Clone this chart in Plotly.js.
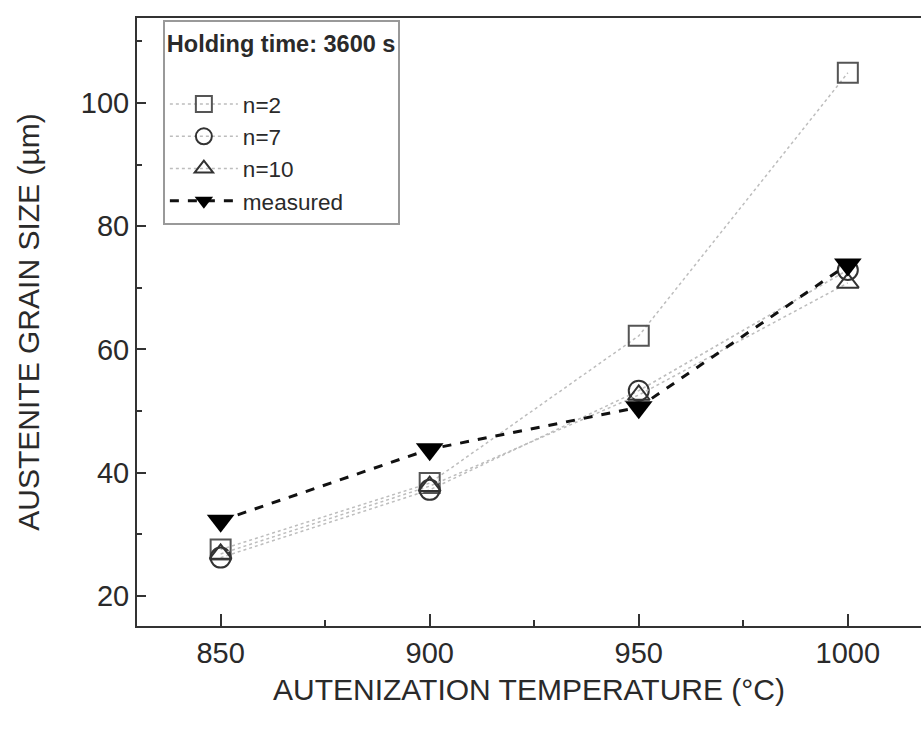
<!DOCTYPE html>
<html>
<head>
<meta charset="utf-8">
<script src="https://cdn.plot.ly/plotly-3.0.1.min.js"></script>
<style>html,body{margin:0;padding:0;background:#fff;}</style>
</head>
<body>
<div id="chart" style="width:921px;height:733px;"></div>
<script>
const temperatures = [850, 900, 950, 1000];
const n2 = [27.5, 38.3, 62.2, 104.9];
const n7 = [26.2, 37.2, 53.3, 72.9];
const n10 = [26.8, 37.8, 52.6, 70.8];
const measured = [32.2, 43.8, 50.6, 73.8];
const seriesNames = ["n=2", "n=7", "n=10", "measured"];

const font = "Liberation Sans, Arial, sans-serif";
const traces = [
  {x: temperatures, y: n2, name: seriesNames[0], mode: "lines+markers",
   line: {color: "#bdbdbd", width: 1.5, dash: "dot"},
   marker: {symbol: "square-open", size: 20, color: "#555", line: {width: 2}}},
  {x: temperatures, y: n7, name: seriesNames[1], mode: "lines+markers",
   line: {color: "#bdbdbd", width: 1.5, dash: "dot"},
   marker: {symbol: "circle-open", size: 20, color: "#333", line: {width: 2}}},
  {x: temperatures, y: n10, name: seriesNames[2], mode: "lines+markers",
   line: {color: "#bdbdbd", width: 1.5, dash: "dot"},
   marker: {symbol: "triangle-up-open", size: 19, color: "#333", line: {width: 2}}},
  {x: temperatures, y: measured, name: seriesNames[3], mode: "lines+markers",
   line: {color: "#111", width: 3, dash: "dash"},
   marker: {symbol: "triangle-down", size: 24, color: "#000"}}
];

const layout = {
  width: 921, height: 733,
  margin: {l: 137, r: 0, t: 18, b: 107},
  paper_bgcolor: "#fff", plot_bgcolor: "#fff",
  font: {family: font, color: "#2a2a2a"},
  showlegend: true,
  legend: {
    x: 0.033, y: 0.997, xanchor: "left", yanchor: "top",
    bordercolor: "#999", borderwidth: 2, bgcolor: "#fff",
    font: {size: 22.5, family: font, color: "#2a2a2a"},
    title: {text: "<b>Holding time: 3600 s</b><br> ", font: {size: 23.5, family: font, color: "#2a2a2a"}},
    itemwidth: 68, tracegroupgap: 0
  },
  xaxis: {
    range: [830, 1017.5], tickvals: temperatures, ticktext: temperatures.map(String),
    ticks: "inside", ticklen: 12, tickwidth: 2, tickcolor: "#333",
    minor: {tickvals: [875, 925, 975], ticks: "inside", ticklen: 6, tickwidth: 2, tickcolor: "#333"},
    showline: true, linecolor: "#333", linewidth: 2, mirror: true,
    showgrid: false, zeroline: false,
    tickfont: {size: 29, family: font, color: "#2a2a2a"},
    title: {text: "AUTENIZATION TEMPERATURE (°C)", font: {size: 30, family: font, color: "#2a2a2a"}, standoff: 11}
  },
  yaxis: {
    range: [15.1, 113.8], tickvals: [20, 40, 60, 80, 100],
    ticks: "inside", ticklen: 9, tickwidth: 2, tickcolor: "#333",
    minor: {tickvals: [30, 50, 70, 90, 110], ticks: "inside", ticklen: 5, tickwidth: 2, tickcolor: "#333"},
    showline: true, linecolor: "#333", linewidth: 2,
    showgrid: false, zeroline: false,
    tickfont: {size: 29, family: font, color: "#2a2a2a"},
    title: {text: "AUSTENITE GRAIN SIZE (µm)", font: {size: 30, family: font, color: "#2a2a2a"}, standoff: 32}
  }
};
Plotly.newPlot("chart", traces, layout, {displayModeBar: false, staticPlot: true});
</script>
</body>
</html>
